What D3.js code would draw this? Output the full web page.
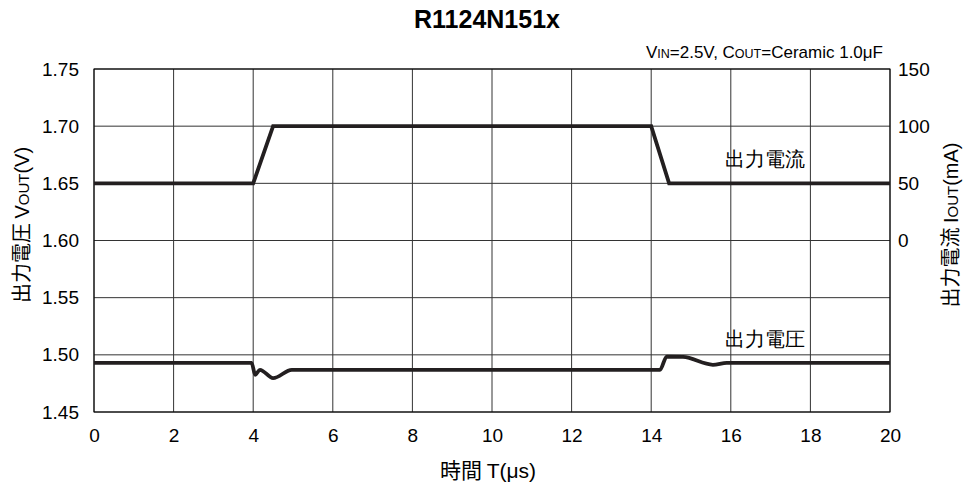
<!DOCTYPE html>
<html><head><meta charset="utf-8">
<script src="https://cdn.jsdelivr.net/npm/d3@7"></script>
<style>body{margin:0;background:#fff}svg{display:block}text{font-family:"Liberation Sans",Arial,sans-serif;fill:#000}</style>
</head><body>
<svg id="c" width="968" height="489"></svg>
<script>
const xTicks = [0,2,4,6,8,10,12,14,16,18,20];
const vTicks = [1.45,1.50,1.55,1.60,1.65,1.70,1.75];
const vTickLabels = ["1.45","1.50","1.55","1.60","1.65","1.70","1.75"];
const iTicks = [0,50,100,150];
const currentT = [0,4.0,4.5,14.0,14.45,20];
const currentI = [50,50,100,100,50,50];
const voltT = [0,3.96,4.05,4.17,4.5,4.97,14.22,14.39,14.8,15.55,15.9,20];
const voltV = [1.4930,1.4930,1.4825,1.4869,1.4796,1.4869,1.4869,1.4985,1.4982,1.4913,1.4930,1.4930];

const svg = d3.select("#c");
const L=94,R=890,T=69,B=412;
const x = d3.scaleLinear().domain([0,20]).range([L,R]);
const yV = d3.scaleLinear().domain([1.45,1.75]).range([B,T]);
const yI = d3.scaleLinear().domain([-150,150]).range([B,T]);
const FS = 19;

// grid
svg.append("g").selectAll("line").data(xTicks).join("line")
  .attr("x1",d=>x(d)).attr("x2",d=>x(d)).attr("y1",T).attr("y2",B)
  .attr("stroke","#333").attr("stroke-width",1);
svg.append("g").selectAll("line").data(vTicks).join("line")
  .attr("x1",L).attr("x2",R).attr("y1",d=>yV(d)).attr("y2",d=>yV(d))
  .attr("stroke","#333").attr("stroke-width",1);
svg.append("rect").attr("x",L).attr("y",T).attr("width",R-L).attr("height",B-T)
  .attr("fill","none").attr("stroke","#000").attr("stroke-width",1);

// axes
const ax = svg.append("g").attr("transform",`translate(0,${B})`)
  .call(d3.axisBottom(x).tickValues(xTicks).tickSize(0).tickPadding(17).tickFormat(d3.format("d")));
const al = svg.append("g").attr("transform",`translate(${L},0)`)
  .call(d3.axisLeft(yV).tickValues(vTicks).tickSize(0).tickPadding(15).tickFormat((d,i)=>vTickLabels[i]));
const ar = svg.append("g").attr("transform",`translate(${R},0)`)
  .call(d3.axisRight(yI).tickValues(iTicks).tickSize(0).tickPadding(8).tickFormat(d3.format("d")));
[ax,al,ar].forEach(g=>{g.select(".domain").remove();g.selectAll("text").attr("font-size",FS).attr("font-family","Liberation Sans, Arial, sans-serif").attr("fill","#000");});

// lines
const lineI = d3.line().x((d,i)=>x(currentT[i])).y((d,i)=>yI(currentI[i]));
svg.append("path").attr("d",lineI(currentT)).attr("fill","none").attr("stroke","#231f20").attr("stroke-width",3.8).attr("stroke-linejoin","miter");
const lineV = d3.line().x((d,i)=>x(voltT[i])).y((d,i)=>yV(voltV[i])).curve(d3.curveMonotoneX);
svg.append("path").attr("d",lineV(voltT)).attr("fill","none").attr("stroke","#231f20").attr("stroke-width",3.8);

// labels
svg.append("text").attr("x",487).attr("y",28).attr("text-anchor","middle").attr("font-size",25).attr("font-weight","bold").text("R1124N151x");
const ann = svg.append("text").attr("x",883).attr("y",58).attr("text-anchor","end").attr("font-size",17);
ann.append("tspan").text("V");
ann.append("tspan").attr("font-size",12.5).text("IN");
ann.append("tspan").text("=2.5V, C");
ann.append("tspan").attr("font-size",12.5).text("OUT");
ann.append("tspan").text("=Ceramic 1.0μF");

svg.append("text").attr("x",765).attr("y",166).attr("text-anchor","middle").attr("font-size",20).attr("font-family","Noto Sans CJK JP").text("出力電流");
svg.append("text").attr("x",765).attr("y",346).attr("text-anchor","middle").attr("font-size",20).attr("font-family","Noto Sans CJK JP").text("出力電圧");

const xl = svg.append("text").attr("x",488).attr("y",478).attr("text-anchor","middle").attr("font-size",21);
xl.append("tspan").attr("font-family","Noto Sans CJK JP").text("時間 ");
xl.append("tspan").text("T(μs)");

const yl = svg.append("text").attr("transform","translate(29,225) rotate(-90)").attr("text-anchor","middle").attr("font-size",20);
yl.append("tspan").attr("font-family","Noto Sans CJK JP").text("出力電圧 ");
yl.append("tspan").text("V");
yl.append("tspan").attr("font-size",15).text("OUT");
yl.append("tspan").text("(V)");

const yr = svg.append("text").attr("transform","translate(958,225) rotate(-90)").attr("text-anchor","middle").attr("font-size",20);
yr.append("tspan").attr("font-family","Noto Sans CJK JP").text("出力電流 ");
yr.append("tspan").text("I");
yr.append("tspan").attr("font-size",15).text("OUT");
yr.append("tspan").text("(mA)");
</script>
</body></html>
